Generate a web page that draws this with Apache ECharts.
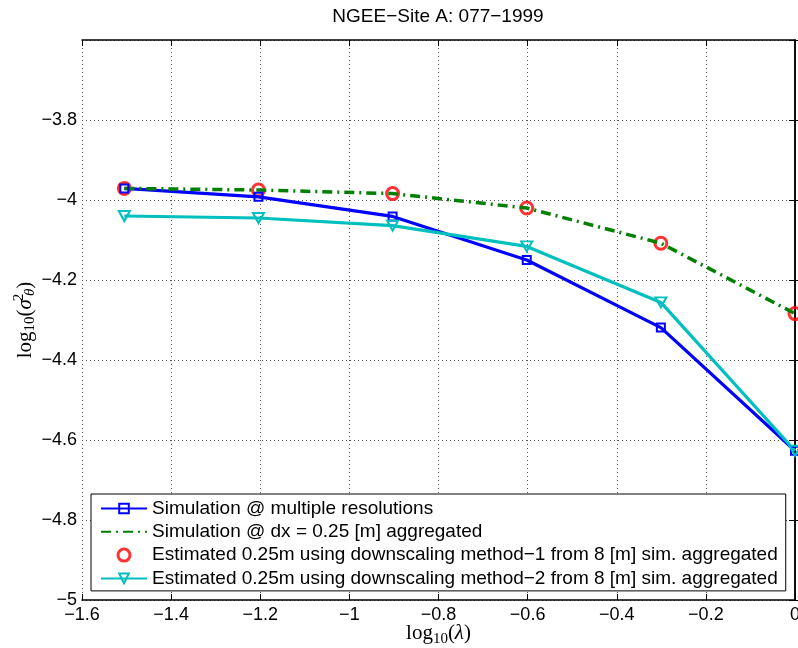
<!DOCTYPE html>
<html><head><meta charset="utf-8">
<script src="https://cdn.jsdelivr.net/npm/echarts@6/dist/echarts.min.js"></script>
<style>html,body{margin:0;padding:0;background:#fff}#c{width:798px;height:648px}</style>
</head><body><div id="c"></div>
<script>
// ---- data ----
const xVals      = [-1.505, -1.204, -0.903, -0.602, -0.301, 0];
const multiRes   = [-3.971, -3.992, -4.041, -4.150, -4.319, -4.627];
const aggregated = [-3.971, -3.975, -3.984, -4.020, -4.108, -4.284];
const method1    = [-3.971, -3.975, -3.984, -4.020, -4.108, -4.284];
const method2    = [-4.040, -4.045, -4.064, -4.116, -4.256, -4.627];
const seriesNames = [
  'Simulation @ multiple resolutions',
  'Simulation @ dx = 0.25 [m] aggregated',
  'Estimated 0.25m using downscaling method\u22121 from 8 [m] sim. aggregated',
  'Estimated 0.25m using downscaling method\u22122 from 8 [m] sim. aggregated'
];
const titleText = 'NGEE\u2212Site A: 077\u22121999';
const xAxisRange = [-1.6, 0, 0.2];
const yAxisRange = [-5, -3.6, 0.2];

const pairs = ys => xVals.map((x, i) => [x, ys[i]]);
const fmt = v => {
  const r = Math.round(v * 10) / 10;
  return String(r).replace('-', '\u2212');
};
const SANS = 'Liberation Sans, Helvetica, Arial, sans-serif';
const SERIF = 'Liberation Serif, DejaVu Serif, serif';

const chart = echarts.init(document.getElementById('c'));
const gridLine = {show: true, lineStyle: {color: '#555', width: 1, type: [1, 3]}};
const axisLine = {show: true, lineStyle: {color: '#000', width: 1.5}};
const axisTick = {show: true, inside: true, length: 6, lineStyle: {color: '#000', width: 1}};

chart.setOption({
  animation: false,
  backgroundColor: '#fff',
  grid: {left: 82, right: 3, top: 40, bottom: 48, containLabel: false, outerBoundsMode: 'none'},
  graphic: [{
    type: 'text', x: 438, y: 17,
    style: {text: titleText, font: '19px ' + SANS, fill: '#000', textAlign: 'center', textVerticalAlign: 'middle'}
  }],
  xAxis: [{
    type: 'value', min: xAxisRange[0], max: xAxisRange[1], interval: xAxisRange[2],
    position: 'bottom', axisLine, axisTick, splitLine: gridLine,
    axisLabel: {formatter: fmt, fontFamily: SANS, fontSize: 18, color: '#000', margin: 6},
    name: '{a|log}{s|10}{a|(}{i|\u03bb}{a|)}', nameLocation: 'middle', nameGap: 23, nameMoveOverlap: false,
    nameTextStyle: {rich: {
      a: {fontFamily: SERIF, fontSize: 21, color: '#000', lineHeight: 24, verticalAlign: 'top'},
      i: {fontFamily: SERIF, fontSize: 21, fontStyle: 'italic', color: '#000', lineHeight: 24, verticalAlign: 'top'},
      s: {fontFamily: SERIF, fontSize: 15, color: '#000', lineHeight: 18, verticalAlign: 'bottom'}
    }}
  }, {
    type: 'value', min: xAxisRange[0], max: xAxisRange[1], interval: xAxisRange[2],
    position: 'top', axisLine, axisTick, splitLine: {show: false}, axisLabel: {show: false}
  }],
  yAxis: [{
    type: 'value', min: yAxisRange[0], max: yAxisRange[1], interval: yAxisRange[2],
    position: 'left', axisLine, axisTick, splitLine: gridLine,
    axisLabel: {formatter: v => (Math.abs(v - yAxisRange[1]) < 1e-6 ? '' : fmt(v)),
      fontFamily: SANS, fontSize: 18, color: '#000', margin: 5},
    name: '{a|log}{s|10}{a|(}{i|\u03c3}{p|2}{t|\u03b8}{a|)}', nameLocation: 'middle', nameRotate: 90, nameGap: 44, nameMoveOverlap: false,
    nameTextStyle: {rich: {
      a: {fontFamily: SERIF, fontSize: 21, color: '#000', lineHeight: 26, verticalAlign: 'middle'},
      i: {fontFamily: SERIF, fontSize: 21, fontStyle: 'italic', color: '#000', lineHeight: 26, verticalAlign: 'middle'},
      s: {fontFamily: SERIF, fontSize: 15, color: '#000', lineHeight: 14, verticalAlign: 'bottom'},
      t: {fontFamily: SERIF, fontSize: 15, fontStyle: 'italic', color: '#000', lineHeight: 14, verticalAlign: 'bottom'},
      p: {fontFamily: SERIF, fontSize: 15, color: '#000', lineHeight: 14, verticalAlign: 'top', width: 3}
    }}
  }, {
    type: 'value', min: yAxisRange[0], max: yAxisRange[1], interval: yAxisRange[2],
    position: 'right', axisLine, axisTick, splitLine: {show: false}, axisLabel: {show: false}
  }],
  legend: {
    orient: 'vertical', left: 91, top: 494, padding: [5, 8, 3, 9], itemGap: 4.3,
    itemWidth: 46, itemHeight: 12, backgroundColor: '#fff', borderColor: '#000', borderWidth: 1,
    textStyle: {fontFamily: SANS, fontSize: 19, color: '#000', lineHeight: 19},
    data: [
      {name: seriesNames[0]},
      {name: seriesNames[1], itemStyle: {opacity: 0}},
      {name: seriesNames[2], itemStyle: {borderWidth: 3}},
      {name: seriesNames[3]}
    ]
  },
  series: [{
    name: seriesNames[0], type: 'line', data: pairs(multiRes),
    symbol: 'rect', symbolSize: 8,
    lineStyle: {color: '#0000ff', width: 3.2},
    itemStyle: {color: 'rgba(0,0,0,0)', borderColor: '#0000ff', borderWidth: 2}
  }, {
    name: seriesNames[1], type: 'line', data: pairs(aggregated),
    symbol: 'none',
    lineStyle: {color: '#007f00', width: 3.5, type: [10, 5, 2, 5]},
    itemStyle: {color: '#007f00'}
  }, {
    name: seriesNames[2], type: 'scatter', data: pairs(method1),
    symbol: 'circle', symbolSize: 12,
    itemStyle: {color: 'rgba(0,0,0,0)', borderColor: '#ff0000', borderWidth: 3}
  }, {
    name: seriesNames[3], type: 'line', data: pairs(method2),
    symbol: 'triangle', symbolRotate: 180, symbolSize: [11, 10],
    lineStyle: {color: '#00bfbf', width: 3.2},
    itemStyle: {color: 'rgba(0,0,0,0)', borderColor: '#00bfbf', borderWidth: 2}
  }]
});
</script></body></html>
